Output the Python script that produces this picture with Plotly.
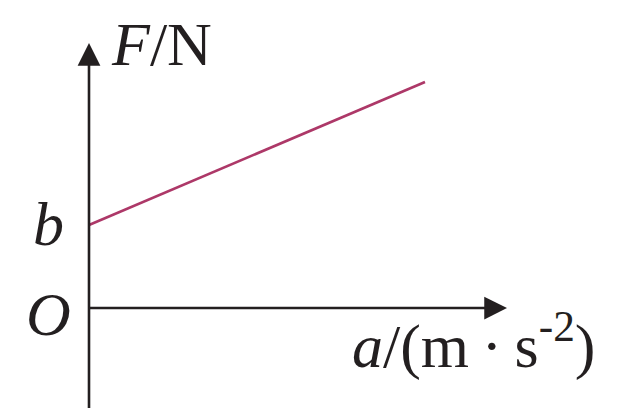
import plotly.graph_objects as go

# F–a relation: straight line with intercept b on the F axis
a_vals = [0.0, 3.36]
F_vals = [0.83, 2.26]

W, H = 618, 408
X0, Y0 = 89, 308          # origin position in pixels
SCALE = 100.0             # pixels per unit


def px(x):
    return (x - X0) / SCALE


def py(y):
    return (Y0 - y) / SCALE


SERIF = "Liberation Serif, Times New Roman, serif"
AXIS_COLOR = "#231f20"
LINE_COLOR = "#ad3868"
FS = 62
THIN = "\u2009"

fig = go.Figure()
fig.add_trace(go.Scatter(x=a_vals, y=F_vals, mode="lines",
                         line=dict(color=LINE_COLOR, width=2.6),
                         hoverinfo="skip", showlegend=False))

annotations = [
    # vertical F axis with arrow
    dict(x=0, y=py(43), ax=0, ay=py(420), xref="x", yref="y", axref="x", ayref="y",
         text="", showarrow=True, arrowhead=2, arrowsize=1.75, arrowwidth=2.6,
         arrowcolor=AXIS_COLOR),
    # horizontal a axis with arrow
    dict(x=px(507), y=0, ax=px(88), ay=0, xref="x", yref="y", axref="x", ayref="y",
         text="", showarrow=True, arrowhead=2, arrowsize=1.75, arrowwidth=2.6,
         arrowcolor=AXIS_COLOR),
    dict(x=px(109), y=py(44), text="<i>F</i>/N", showarrow=False,
         xanchor="left", yanchor="middle", font=dict(family=SERIF, size=FS, color=AXIS_COLOR)),
    dict(x=px(66), y=py(224), text="<i>b</i>", showarrow=False,
         xanchor="right", yanchor="middle", font=dict(family=SERIF, size=FS, color=AXIS_COLOR)),
    dict(x=px(73), y=py(314), text="<i>O</i>", showarrow=False,
         xanchor="right", yanchor="middle", font=dict(family=SERIF, size=FS, color=AXIS_COLOR)),
    dict(x=px(350), y=py(341),
         text=f"<i>a</i>/(m{THIN}·{THIN}s<sup>-2</sup>)", showarrow=False,
         xanchor="left", yanchor="middle", font=dict(family=SERIF, size=FS, color=AXIS_COLOR)),
]

fig.update_layout(
    width=W, height=H,
    margin=dict(l=0, r=0, t=0, b=0),
    paper_bgcolor="white", plot_bgcolor="white",
    xaxis=dict(range=[px(0), px(W)], visible=False, fixedrange=True),
    yaxis=dict(range=[py(H), py(0)], visible=False, fixedrange=True),
    annotations=annotations,
)

fig.write_html("out.html")
